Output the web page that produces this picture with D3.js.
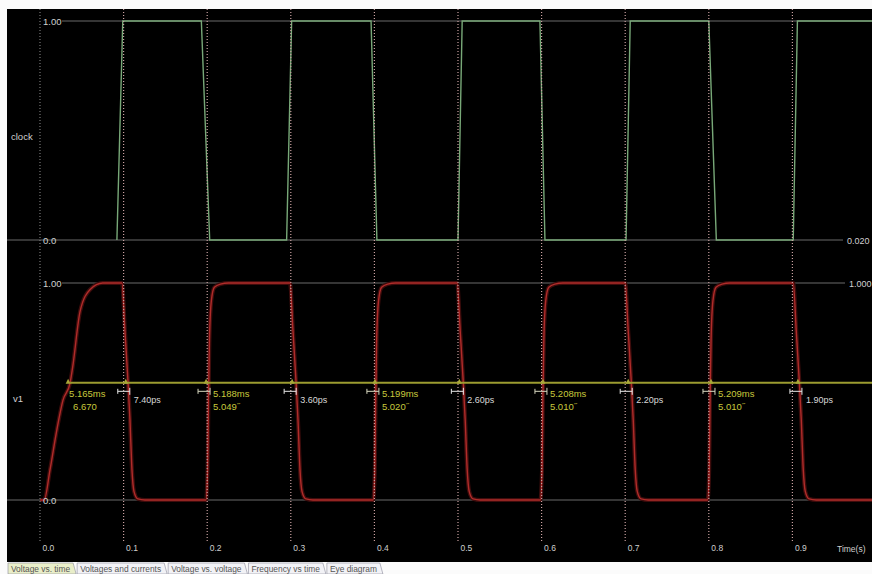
<!DOCTYPE html>
<html>
<head>
<meta charset="utf-8">
<script src="https://cdn.jsdelivr.net/npm/d3@7"></script>
<style>
body { margin:0; background:#fff; overflow:hidden; }
text { font-family: "Liberation Sans", Arial, sans-serif; }
</style>
</head>
<body>
<svg width="872" height="574"></svg>
<script>
'use strict';

// time axis
var timeTicks = [0, 0.1, 0.2, 0.3, 0.4, 0.5, 0.6, 0.7, 0.8, 0.9];

// clock trace [time s, level V]
var clockPoints = [
	[0, 0], [0.092, 0], [0.099, 1], [0.193, 1], [0.203, 0],
	[0.295, 0], [0.301, 1], [0.396, 1], [0.403, 0],
	[0.500, 0], [0.505, 1], [0.598, 1], [0.604, 0],
	[0.701, 0], [0.706, 1], [0.800, 1], [0.809, 0],
	[0.901, 0], [0.906, 1], [1.0, 1]
];

// v1 trace [time s, level V]
var v1Points = [
	[0, 0], [0.005, 0], [0.012, 0.14], [0.020, 0.32], [0.0275, 0.46], [0.036, 0.54],
	[0.039, 0.61], [0.048, 0.87], [0.060, 0.97], [0.075, 1],
	[0.098, 1], [0.1016, 0.78], [0.1052, 0.55], [0.1076, 0.37], [0.110, 0.14], [0.1124, 0.04], [0.117, 0.005], [0.1255, 0],
	[0.1985, 0], [0.2005, 0.14], [0.2015, 0.46], [0.2027, 0.74], [0.205, 0.92], [0.2086, 0.98], [0.2158, 0.995], [0.2254, 1],
	[0.299, 1], [0.3026, 0.78], [0.3062, 0.55], [0.3086, 0.37], [0.311, 0.14], [0.3134, 0.04], [0.318, 0.005], [0.3265, 0],
	[0.3985, 0], [0.4005, 0.14], [0.4015, 0.46], [0.4027, 0.74], [0.405, 0.92], [0.4086, 0.98], [0.4158, 0.995], [0.4254, 1],
	[0.499, 1], [0.5026, 0.78], [0.5062, 0.55], [0.5086, 0.37], [0.511, 0.14], [0.5134, 0.04], [0.518, 0.005], [0.5265, 0],
	[0.5985, 0], [0.6005, 0.14], [0.6015, 0.46], [0.6027, 0.74], [0.605, 0.92], [0.6086, 0.98], [0.6158, 0.995], [0.6254, 1],
	[0.700, 1], [0.7036, 0.78], [0.7072, 0.55], [0.7096, 0.37], [0.712, 0.14], [0.7144, 0.04], [0.719, 0.005], [0.7275, 0],
	[0.7985, 0], [0.8005, 0.14], [0.8015, 0.46], [0.8027, 0.74], [0.805, 0.92], [0.8086, 0.98], [0.8158, 0.995], [0.8254, 1],
	[0.901, 1], [0.9046, 0.78], [0.9082, 0.55], [0.9106, 0.37], [0.913, 0.14], [0.9154, 0.04], [0.920, 0.005], [0.9285, 0],
	[1.0, 0]
];

// measurement cursor
var cursorLevel = 0.54;
var riseCursors = [0.036, 0.201, 0.403, 0.604, 0.805];
var riseLabels = [['5.165ms', '6.670'], ['5.188ms', '5.049\u02dd'], ['5.199ms', '5.020\u02dd'], ['5.208ms', '5.010\u02dd'], ['5.209ms', '5.010\u02dd']];
var fallCursors = [0.105, 0.304, 0.504, 0.706, 0.909];
var fallLabels = ['7.40ps', '3.60ps', '2.60ps', '2.20ps', '1.90ps'];

var tabNames = ['Voltage vs. time', 'Voltages and currents', 'Voltage vs. voltage', 'Frequency vs time', 'Eye diagram'];

var svg = d3.select('svg');
var x = d3.scaleLinear().domain([0, 1]).range([40, 876]);
var yClock = d3.scaleLinear().domain([0, 1]).range([240, 21]);
var yV1 = d3.scaleLinear().domain([0, 1]).range([500, 283]);

svg.append('rect').attr('x', 0).attr('y', 0).attr('width', 872).attr('height', 574).attr('fill', '#fbfbfb');
svg.append('rect').attr('x', 7).attr('y', 9).attr('width', 865).attr('height', 553).attr('fill', '#000');

// level lines
var levels = [
	[yClock(1), 62, 872], [yClock(0), 7, 843],
	[yV1(1), 62, 845], [yV1(0), 7, 872]
];
svg.selectAll('line.level').data(levels).enter()
	.append('line').attr('class', 'level')
	.attr('x1', function(d){ return d[1]; })
	.attr('x2', function(d){ return d[2]; })
	.attr('y1', function(d){ return d[0]; })
	.attr('y2', function(d){ return d[0]; })
	.attr('stroke', '#6a6a6a')
	.attr('stroke-width', 1.2);

// traces
var clockLine = d3.line()
	.x(function(d){ return x(d[0]); })
	.y(function(d){ return yClock(d[1]); });
var v1Line = d3.line()
	.curve(d3.curveMonotoneX)
	.x(function(d){ return x(d[0]); })
	.y(function(d){ return yV1(d[1]); });

svg.append('path').datum(v1Points)
	.attr('d', v1Line)
	.attr('fill', 'none')
	.attr('stroke', '#3e0c0c')
	.attr('stroke-width', 4);
svg.append('path').datum(v1Points)
	.attr('d', v1Line)
	.attr('fill', 'none')
	.attr('stroke', '#b02c2a')
	.attr('stroke-width', 1.4);

svg.append('path').datum(clockPoints.filter(function(d){ return d[0] >= 0.028; }))
	.attr('d', clockLine)
	.attr('fill', 'none')
	.attr('stroke', '#78a878')
	.attr('stroke-width', 1.4);

// vertical dotted grid
svg.selectAll('line.grid').data(timeTicks).enter()
	.append('line').attr('class', 'grid')
	.attr('x1', function(d){ return x(d); })
	.attr('x2', function(d){ return x(d); })
	.attr('y1', 9)
	.attr('y2', 541)
	.attr('stroke', function(d, i){ return i == 0 ? '#777' : '#c9a0a0'; })
	.attr('stroke-width', 1.2)
	.attr('stroke-dasharray', '1,2');

// axis labels
var xAxis = d3.axisBottom(x).tickValues(timeTicks).tickFormat(d3.format('.1f')).tickSize(0).tickPadding(0);
var gx = svg.append('g').attr('transform', 'translate(0,545)').call(xAxis);
gx.select('.domain').remove();
gx.selectAll('text')
	.attr('text-anchor', 'start')
	.attr('dx', 2)
	.attr('font-family', '"Liberation Sans", Arial, sans-serif')
	.attr('font-size', 8.5)
	.attr('fill', '#cfcfcf');

svg.append('text').attr('x', 837).attr('y', 552).attr('font-size', 8.5).attr('fill', '#cfcfcf').text('Time(s)');

var levelLabels = [
	['1.00', 43, yClock(1)], ['0.0', 43, yClock(0)],
	['1.00', 43, yV1(1)], ['0.0', 43, yV1(0)]
];
svg.selectAll('text.lvl').data(levelLabels).enter()
	.append('text').attr('class', 'lvl')
	.attr('x', function(d){ return d[1]; })
	.attr('y', function(d){ return d[2] + 3.5; })
	.attr('font-size', 9.5)
	.attr('fill', '#d0d0d0')
	.text(function(d){ return d[0]; });

svg.append('text').attr('x', 847).attr('y', yClock(0) + 4).attr('font-size', 9).attr('fill', '#d0d0d0').text('0.020');
svg.append('text').attr('x', 849).attr('y', yV1(1) + 4).attr('font-size', 9).attr('fill', '#d0d0d0').text('1.000');
svg.append('text').attr('x', 11).attr('y', 140).attr('font-size', 9.5).attr('fill', '#d0d0d0').text('clock');
svg.append('text').attr('x', 13).attr('y', 402).attr('font-size', 9.5).attr('fill', '#d0d0d0').text('v1');

// cursor line
var yc = yV1(cursorLevel);
svg.append('line')
	.attr('x1', x(riseCursors[0])).attr('x2', 872)
	.attr('y1', yc).attr('y2', yc)
	.attr('stroke', '#9c9c30')
	.attr('stroke-width', 2);

function bracket(xm){
	return 'M' + (xm - 10) + ',' + (yc + 6) + 'v5M' + (xm - 10) + ',' + (yc + 8.5) + 'H' + (xm + 2) + 'M' + (xm + 2) + ',' + (yc + 5) + 'v7';
}

svg.selectAll('path.fallmark').data(fallCursors).enter()
	.append('path').attr('class', 'fallmark')
	.attr('d', function(d){ return bracket(x(d)); })
	.attr('fill', 'none')
	.attr('stroke', '#e8e8e8')
	.attr('stroke-width', 1);

svg.selectAll('path.risemark').data(riseCursors.slice(1)).enter()
	.append('path').attr('class', 'risemark')
	.attr('d', function(d){ return bracket(x(d)); })
	.attr('fill', 'none')
	.attr('stroke', '#d8d8c0')
	.attr('stroke-width', 1);

svg.selectAll('path.tri').data(riseCursors.concat(fallCursors)).enter()
	.append('path').attr('class', 'tri')
	.attr('d', function(d){ var xm = x(d) - 2; return 'M' + (xm - 2.5) + ',' + (yc + 1) + 'L' + xm + ',' + (yc - 4) + 'L' + (xm + 2.5) + ',' + (yc + 1) + 'Z'; })
	.attr('fill', '#a8a838');

svg.selectAll('text.fall').data(fallCursors).enter()
	.append('text').attr('class', 'fall')
	.attr('x', function(d){ return x(d) + 6; })
	.attr('y', yc + 20)
	.attr('font-size', 9)
	.attr('fill', '#d8d8d8')
	.text(function(d, i){ return fallLabels[i]; });

var riseText = svg.selectAll('text.rise').data(riseCursors).enter()
	.append('text').attr('class', 'rise')
	.attr('font-size', 9.5)
	.attr('fill', '#c8c83c');
riseText.append('tspan')
	.attr('x', function(d, i){ return i == 0 ? x(d) - 1 : x(d) + 5; })
	.attr('y', yc + 14)
	.text(function(d, i){ return riseLabels[i][0]; });
riseText.append('tspan')
	.attr('x', function(d, i){ return i == 0 ? x(d) + 3 : x(d) + 5; })
	.attr('y', yc + 27)
	.text(function(d, i){ return riseLabels[i][1]; });

// tab bar
var tabs = svg.append('g');
var tx = 8;
tabNames.forEach(function(name, i){
	var t = tabs.append('text').attr('x', tx + 3).attr('y', 571.5).attr('font-size', 8.4).attr('fill', '#555').text(name);
	var w = t.node().getComputedTextLength() + 9;
	tabs.insert('path', 'text')
		.attr('d', 'M' + tx + ',563H' + (tx + w - 3) + 'L' + (tx + w) + ',574H' + tx + 'Z')
		.attr('fill', i == 0 ? '#e9eec9' : '#f2f2f6')
		.attr('stroke', '#8a8a9a')
		.attr('stroke-width', 0.6);
	tx += w + 1;
});
</script>
</body>
</html>
